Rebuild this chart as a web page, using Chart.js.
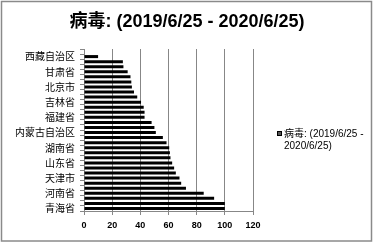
<!DOCTYPE html>
<html><head><meta charset="utf-8">
<script src="https://cdn.jsdelivr.net/npm/chart.js@4/dist/chart.umd.min.js"></script>
<style>html,body{margin:0;padding:0;background:#fff}#wrap{width:377px;height:244px;position:relative}canvas{display:block}</style>
</head><body><div id="wrap"><canvas id="c" width="377" height="244"></canvas></div>
<script>
const TITLE = '病毒: (2019/6/25 - 2020/6/25)';
const SERIES_NAME = '病毒: (2019/6/25 - 2020/6/25)';
const LEGEND_LINES = ['病毒: (2019/6/25 -', '2020/6/25)'];
const categories = ['', '西藏自治区', '', '', '甘肃省', '', '', '北京市', '', '', '吉林省', '', '', '福建省', '', '', '内蒙古自治区', '', '', '湖南省', '', '', '山东省', '', '', '天津市', '', '', '河南省', '', '', '青海省'];
const values = [0, 10, 27.6, 28, 31, 33, 33.6, 34, 35.5, 37.8, 40.5, 42.4, 43, 43, 48, 50, 51, 56, 58.6, 60.5, 61, 61.4, 62.6, 64, 65.2, 67.8, 69, 72.4, 85, 92.4, 100, 100];
const xTicks = [0, 20, 40, 60, 80, 100, 120];

const FONT = "'Liberation Sans', 'Noto Sans CJK SC', sans-serif";
const CJK = "'Noto Sans CJK SC', 'Liberation Sans', sans-serif";

const framePlugin = {
  id: 'frame',
  beforeDraw(chart) {
    const c = chart.ctx;
    c.save(); c.fillStyle = '#fff'; c.fillRect(0, 0, chart.width, chart.height); c.restore();
  },
  afterDraw(chart) {
    const c = chart.ctx;
    c.save();
    c.strokeStyle = '#8a8a8a'; c.lineWidth = 1.5;
    c.strokeRect(1.5, 1.5, 370, 239.5);
    // title
    c.fillStyle = '#000';
    c.font = 'bold 18px ' + FONT;
    c.textBaseline = 'middle'; c.textAlign = 'center';
    c.fillText(TITLE, 187, 22.5);
    // legend
    c.fillStyle = '#555'; c.fillRect(277.5, 131.5, 4, 4);
    c.strokeStyle = '#000'; c.lineWidth = 1; c.strokeRect(277.5, 131.5, 4, 4);
    c.fillStyle = '#000';
    c.font = '10px ' + FONT;
    c.textBaseline = 'middle'; c.textAlign = 'left';
    LEGEND_LINES.forEach((t, i) => c.fillText(t, 284, 134 + i * 12.5));
    c.restore();
  }
};

new Chart(document.getElementById('c'), {
  type: 'bar',
  data: { labels: categories, datasets: [{ label: SERIES_NAME, data: values, backgroundColor: '#000', borderWidth: 0, barPercentage: 0.6, categoryPercentage: 1 }] },
  options: {
    indexAxis: 'y', responsive: false, animation: false, devicePixelRatio: 1,
    layout: { padding: { left: 0, right: 124, top: 49, bottom: 0 } },
    plugins: {
      legend: { display: false }, tooltip: { enabled: false }, title: { display: false }
    },
    scales: {
      x: {
        min: 0, max: 120,
        afterBuildTicks(s) { s.ticks = xTicks.map(v => ({ value: v })); },
        grid: { color: '#878787', lineWidth: 1, tickLength: 4, drawTicks: true },
        border: { display: true, color: '#878787' },
        ticks: { font: { family: FONT, size: 9, weight: 'bold' }, color: '#000', padding: 5, maxRotation: 0 },
        afterFit(s) { s.height = 33; }
      },
      y: {
        grid: { drawOnChartArea: false, tickLength: 4, color: '#878787', offset: true },
        border: { display: true, color: '#878787' },
        ticks: { autoSkip: false, font: { family: CJK, size: 10 }, color: '#000', padding: 5 },
        afterFit(s) { s.width = 84; }
      }
    }
  },
  plugins: [framePlugin]
});
</script></body></html>
